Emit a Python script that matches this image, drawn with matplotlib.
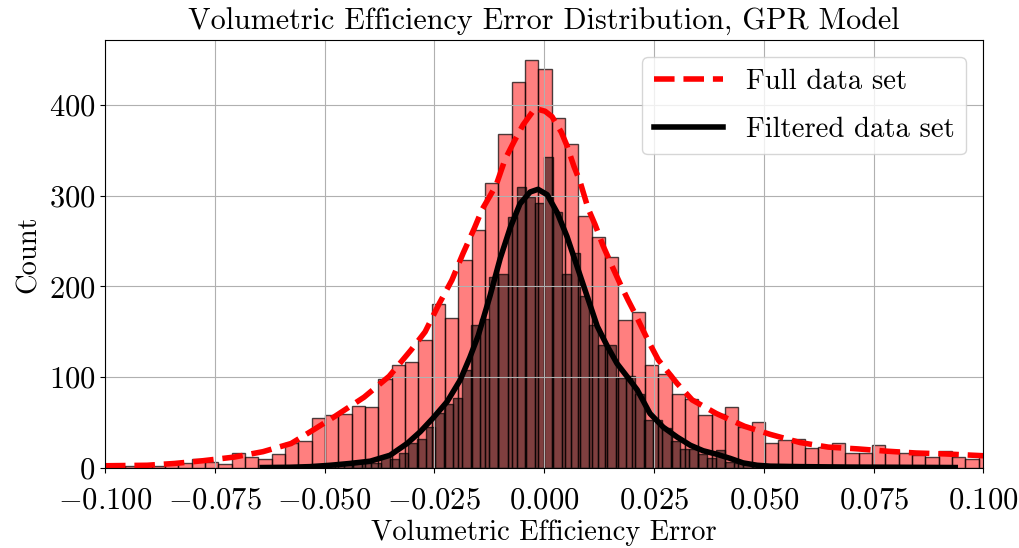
import numpy as np
import matplotlib
matplotlib.use("Agg")
import matplotlib.pyplot as plt

# LaTeX-like look
plt.rcParams['font.family'] = 'serif'
plt.rcParams['font.serif'] = ['cmr10', 'DejaVu Serif']
plt.rcParams['mathtext.fontset'] = 'cm'
plt.rcParams['axes.formatter.use_mathtext'] = True
plt.rcParams['axes.unicode_minus'] = True

# Full data set histogram (counts per bin)
full_start = -0.10153
full_width = 0.003037
full_counts = [2, 2, 2, 3, 2, 6, 6, 10, 7, 4,
               16, 12, 10, 15, 27, 30, 55, 58, 60, 68,
               67, 98, 114, 117, 141, 181, 165, 229, 262, 314,
               368, 425, 449, 440, 385, 357, 278, 254, 232, 163,
               172, 113, 104, 82, 76, 58, 60, 67, 45, 51,
               28, 31, 32, 22, 23, 28, 17, 16, 25, 20,
               16, 14, 12, 19, 12, 10, 13]

# Filtered data set histogram
filt_start = -0.06411
filt_width = 0.002066
filt_counts = [1, 1, 1, 2, 1, 2, 3, 2, 4, 5,
               8, 6, 6, 13, 10, 16, 27, 32, 45, 61,
               70, 77, 108, 158, 164, 210, 214, 277, 310, 298,
               292, 343, 282, 214, 237, 189, 158, 136, 136, 99,
               101, 82, 53, 53, 44, 30, 21, 21, 15, 11,
               20, 7, 5, 4, 3, 2, 2, 1, 2, 1,
               1, 2, 1, 1, 1, 1, 2, 1, 1, 1,
               1, 1, 1, 1, 1, 1]

# KDE curves
full_kde_x = [-0.1, -0.0993, -0.0904, -0.0841, -0.0777, -0.0706, -0.0640, -0.0576, -0.0522,
              -0.0476, -0.0410, -0.0353, -0.0303, -0.0271, -0.0239, -0.0210, -0.0185,
              -0.0159, -0.0141, -0.0123, -0.0109, -0.0089, -0.0068, -0.0048, -0.0021,
              0.0002, 0.0018, 0.0039, 0.0052, 0.0068, 0.0082, 0.0100, 0.0116, 0.0134,
              0.0155, 0.0173, 0.0191, 0.0207, 0.0237, 0.0260, 0.0303, 0.0337, 0.0392,
              0.0456, 0.0515, 0.0583, 0.0647, 0.0715, 0.0781, 0.0847, 0.0913, 0.1]
full_kde_y = [2.5, 2.5, 3, 5, 8, 12, 18, 27, 43,
              57, 78, 101, 130, 150, 181, 207, 236,
              264, 285, 300, 312, 340, 360, 378, 396,
              393, 387, 370, 355, 332, 315, 286, 268, 245,
              222, 203, 185, 170, 140, 119, 93, 75, 60,
              46, 37, 28, 23, 21, 18.5, 16.5, 15.5, 13.5]

filt_kde_x = [-0.0642, -0.0579, -0.0533, -0.0487, -0.0442, -0.0396, -0.0351, -0.0312,
              -0.0282, -0.0253, -0.0221, -0.0191, -0.0169, -0.0150, -0.0123, -0.0100,
              -0.0077, -0.0055, -0.0032, -0.0014, 0.0007, 0.0030, 0.0052, 0.0075,
              0.0098, 0.0121, 0.0144, 0.0166, 0.0190, 0.0212, 0.0241, 0.0271, 0.0303,
              0.0333, 0.0362, 0.0394, 0.0424, 0.0453, 0.0485, 0.0515, 0.0583, 0.0697,
              0.0811, 0.0936]
filt_kde_y = [0.5, 0.8, 1.5, 3, 5, 7.5, 14, 27,
              40, 55, 73, 97, 122, 146, 190, 231,
              265, 291, 304, 307, 301, 281, 255, 222,
              189, 156, 134, 115, 100, 86, 60, 45, 34,
              25, 19, 15, 10.5, 5.6, 3, 2, 1.5, 1,
              0.8, 0.5]

x_ticks = [-0.1, -0.075, -0.05, -0.025, 0.0, 0.025, 0.05, 0.075, 0.1]
y_ticks = [0, 100, 200, 300, 400]

full_edges = full_start + full_width * np.arange(len(full_counts))
filt_edges = filt_start + filt_width * np.arange(len(filt_counts))

fig = plt.figure(figsize=(10.19, 5.48), dpi=100)
ax = fig.add_axes([0.103, 0.146, 0.862, 0.781])

ax.bar(full_edges, full_counts, width=full_width, align='edge',
       facecolor=(1, 0, 0, 0.5), edgecolor=(0, 0, 0, 0.7), linewidth=1)
ax.plot(full_kde_x, full_kde_y, color='red', linestyle='--', linewidth=4,
        label='Full data set')
ax.bar(filt_edges, filt_counts, width=filt_width, align='edge',
       facecolor=(0, 0, 0, 0.5), edgecolor=(0, 0, 0, 0.7), linewidth=1)
ax.plot(filt_kde_x, filt_kde_y, color='black', linestyle='-', linewidth=4,
        label='Filtered data set')

ax.set_xlim(-0.1, 0.1)
ax.set_ylim(0, max(full_counts) * 1.05)
ax.set_xticks(x_ticks)
ax.set_yticks(y_ticks)
ax.set_xticklabels(['$%.3f$' % v for v in x_ticks])
ax.set_yticklabels(['$%d$' % v for v in y_ticks])
ax.tick_params(labelsize=22)
ax.tick_params(axis='x', pad=10)
ax.grid(True)

ax.set_title('Volumetric Efficiency Error Distribution, GPR Model', fontsize=21.7, pad=7)
ax.set_xlabel('Volumetric Efficiency Error', fontsize=20.5, labelpad=4)
ax.set_ylabel('Count', fontsize=20.5, labelpad=5)
ax.legend(loc='upper right', fontsize=20.7, handlelength=2.4, labelspacing=0.75,
          borderaxespad=0.6)

plt.savefig('out.png', dpi=100)
